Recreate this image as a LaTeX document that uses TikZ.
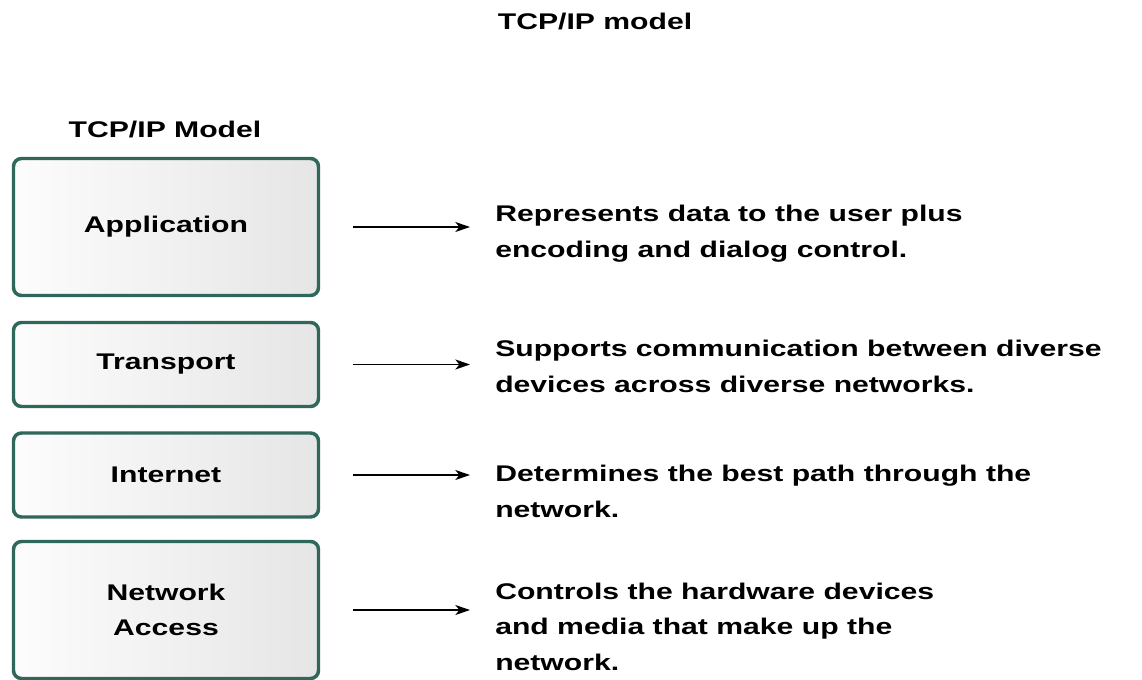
\documentclass[tikz,border=0pt]{standalone}
\usepackage{fontspec}
\setmainfont{Liberation Sans}[FakeStretch=1.33]
\usetikzlibrary{arrows.meta}
\definecolor{layeredge}{RGB}{47,103,90}

\begin{document}
\begin{tikzpicture}[x=0.75pt,y=-0.75pt,
  every node/.style={font=\bfseries\fontsize{17pt}{26.5pt}\selectfont},
  layer/.style={draw=layeredge,line width=2.6pt,rounded corners=6pt,
    left color=black!1,right color=black!10,minimum width=228.75pt,align=center},
  desc/.style={anchor=base west,align=left,inner sep=0pt}]
  \useasboundingbox (0,0) rectangle (1142,679);
  \clip (0,0) rectangle (1142,679);
  \node[anchor=base] (title) at (595,29) {TCP/IP model};
  \node[anchor=base] (head) at (165,137) {TCP/IP Model};
  \node[layer,minimum height=102.75pt] (app) at (166,227) {Application};
  \node[layer,minimum height=63pt] (tra) at (166,364.5) {Transport};
  \node[layer,minimum height=63pt] (int) at (166,475) {Internet};
  \node[layer,minimum height=102.75pt] (net) at (166,610) {Network\\Access};
  \node[desc] (appd) at (495,257) {Represents data to the user plus\\encoding and dialog control.};
  \node[desc] (trad) at (495,392) {Supports communication between diverse\\devices across diverse networks.};
  \node[desc] (intd) at (495,517) {Determines the best path through the\\network.};
  \node[desc] (netd) at (495,670) {Controls the hardware devices\\and media that make up the\\network.};
  \path[-{Stealth[length=11pt,width=7.5pt,inset=3pt]},line width=1pt,shorten <=24.75pt,shorten >=18.75pt]
    (app.east) edge (app.east -| appd.west)
    (tra.east) edge (tra.east -| trad.west)
    (int.east) edge (int.east -| intd.west)
    (net.east) edge (net.east -| netd.west);
\end{tikzpicture}
\end{document}
